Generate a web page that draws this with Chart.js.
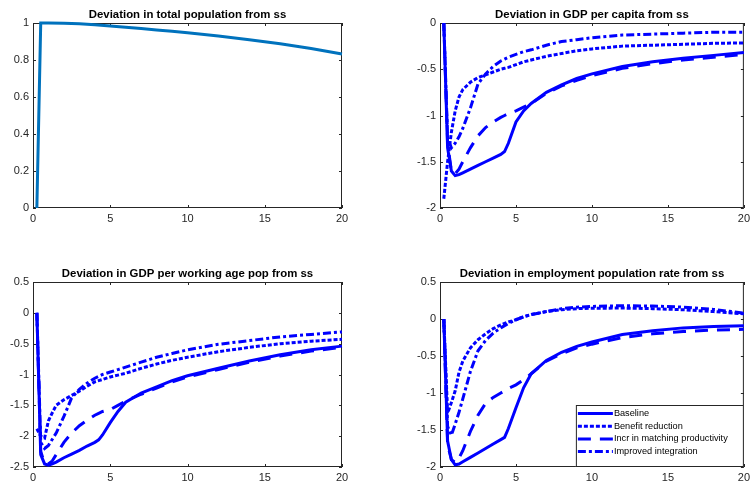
<!DOCTYPE html>
<html>
<head>
<meta charset="utf-8">
<script src="https://cdn.jsdelivr.net/npm/chart.js@4/dist/chart.umd.min.js"></script>
<style>
  body { margin: 0; background: #fff; }
  #wrap { position: relative; width: 754px; height: 489px; }
  canvas { position: absolute; }
</style>
</head>
<body>
<div id="wrap">
  <canvas id="c1" width="377" height="240" style="left:0;top:0"></canvas>
  <canvas id="c2" width="377" height="240" style="left:377px;top:0"></canvas>
  <canvas id="c3" width="377" height="244" style="left:0;top:245px"></canvas>
  <canvas id="c4" width="377" height="244" style="left:377px;top:245px"></canvas>
</div>
<script>
// x ticks shared by all panels
var xTicks = [0, 5, 10, 15, 20];

// panel 1: total population
var popT = [0.25, 0.5, 1, 2, 3, 4, 5, 6, 7, 8, 9, 10, 12, 14, 16, 18, 20];
var popDev = [0, 1, 1, 0.999, 0.996, 0.99, 0.984, 0.977, 0.97, 0.962, 0.955, 0.947, 0.93, 0.91, 0.888, 0.862, 0.832];
var popTicks = [0, 0.2, 0.4, 0.6, 0.8, 1];

// time grid for the scenario panels
var t = [0.25, 0.5, 0.75, 1, 1.25, 1.5, 2, 2.5, 3, 3.5, 4, 4.25, 4.5, 5, 5.5, 6, 7, 8, 9, 10, 12, 14, 16, 18, 20];
var seriesNames = ['Baseline', 'Benefit reduction', 'Incr in matching productivity', 'Improved integration'];

// panel 2: GDP per capita
var gdpCapBase = [0, -1.35, -1.6, -1.65, -1.64, -1.62, -1.58, -1.54, -1.5, -1.46, -1.42, -1.39, -1.3, -1.07, -0.95, -0.87, -0.75, -0.67, -0.6, -0.55, -0.47, -0.42, -0.38, -0.35, -0.32];
var gdpCapBenefit = [-1.9, -1.5, -1.18, -0.95, -0.8, -0.72, -0.64, -0.59, -0.56, -0.53, -0.5, -0.49, -0.48, -0.45, -0.42, -0.4, -0.36, -0.33, -0.3, -0.28, -0.25, -0.24, -0.23, -0.22, -0.215];
var gdpCapMatching = [0, -1.3, -1.6, -1.63, -1.58, -1.5, -1.35, -1.22, -1.13, -1.07, -1.02, -1.0, -0.98, -0.95, -0.91, -0.87, -0.76, -0.68, -0.62, -0.57, -0.49, -0.44, -0.4, -0.37, -0.34];
var gdpCapImproved = [0, -1.25, -1.35, -1.3, -1.23, -1.14, -0.92, -0.66, -0.55, -0.47, -0.41, -0.39, -0.37, -0.34, -0.31, -0.29, -0.24, -0.2, -0.18, -0.16, -0.13, -0.12, -0.11, -0.1, -0.1];
var gdpCapTicks = [-2, -1.5, -1, -0.5, 0];

// panel 3: GDP per working age pop
var gdpWapBase = [0, -2.3, -2.45, -2.47, -2.45, -2.42, -2.35, -2.29, -2.23, -2.16, -2.1, -2.06, -1.98, -1.78, -1.6, -1.45, -1.3, -1.2, -1.1, -1.02, -0.9, -0.78, -0.68, -0.6, -0.54];
var gdpWapBenefit = [-1.88, -2.0, -2.03, -1.75, -1.62, -1.5, -1.41, -1.34, -1.27, -1.19, -1.12, -1.1, -1.08, -1.04, -1.01, -0.98, -0.9, -0.83, -0.77, -0.72, -0.63, -0.56, -0.5, -0.46, -0.43];
var gdpWapMatching = [0, -2.25, -2.44, -2.45, -2.4, -2.3, -2.1, -1.95, -1.83, -1.74, -1.66, -1.63, -1.6, -1.57, -1.5, -1.43, -1.32, -1.22, -1.12, -1.04, -0.92, -0.8, -0.7, -0.62, -0.56];
var gdpWapImproved = [0, -2.1, -2.2, -2.15, -2.05, -1.95, -1.68, -1.38, -1.24, -1.14, -1.06, -1.03, -1.0, -0.96, -0.92, -0.88, -0.8, -0.72, -0.66, -0.6, -0.51, -0.45, -0.39, -0.35, -0.31];
var gdpWapTicks = [-2.5, -2, -1.5, -1, -0.5, 0, 0.5];

// panel 4: employment population rate
var empBase = [0, -1.65, -1.9, -1.97, -1.96, -1.93, -1.87, -1.81, -1.75, -1.69, -1.63, -1.6, -1.48, -1.2, -0.93, -0.74, -0.56, -0.45, -0.37, -0.31, -0.21, -0.16, -0.12, -0.1, -0.09];
var empBenefit = [0, -1.27, -1.13, -0.97, -0.72, -0.57, -0.39, -0.28, -0.2, -0.13, -0.08, -0.06, -0.04, -0.01, 0.03, 0.06, 0.1, 0.125, 0.14, 0.145, 0.148, 0.14, 0.125, 0.1, 0.07];
var empMatching = [0, -1.7, -1.9, -1.94, -1.88, -1.78, -1.52, -1.3, -1.14, -1.06, -1.0, -0.97, -0.94, -0.89, -0.82, -0.74, -0.57, -0.47, -0.39, -0.34, -0.25, -0.2, -0.17, -0.15, -0.14];
var empImproved = [0, -1.45, -1.57, -1.42, -1.26, -1.08, -0.71, -0.43, -0.29, -0.19, -0.12, -0.09, -0.06, -0.01, 0.03, 0.06, 0.1, 0.14, 0.16, 0.17, 0.18, 0.175, 0.16, 0.13, 0.08];
var empTicks = [-2, -1.5, -1, -0.5, 0, 0.5];

var FONT = "'Liberation Sans', Arial, sans-serif";
var AXIS = '#262626';
var BLUE = '#0000ff';
var dashes = [[], [4, 2], [13, 9], [8, 3, 3, 3]];

function pts(xs, ys) {
  return xs.map(function (x, i) { return { x: x, y: ys[i] }; });
}

// axes box, inner tick marks, title and optional legend (MATLAB look)
var boxPlugin = {
  id: 'box',
  beforeDatasetsDraw: function (chart) {
    var ctx = chart.ctx, a = chart.chartArea;
    var xs = chart.scales.x, ys = chart.scales.y;
    ctx.save();
    ctx.strokeStyle = AXIS;
    ctx.lineWidth = 1;
    ctx.strokeRect(a.left + 0.5, a.top + 0.5, a.right - a.left - 1, a.bottom - a.top - 1);
    ctx.beginPath();
    xs.ticks.forEach(function (tk) {
      var px = Math.round(xs.getPixelForValue(tk.value)) + 0.5;
      ctx.moveTo(px, a.bottom); ctx.lineTo(px, a.bottom - 3);
      ctx.moveTo(px, a.top); ctx.lineTo(px, a.top + 3);
    });
    ys.ticks.forEach(function (tk) {
      var py = Math.round(ys.getPixelForValue(tk.value)) + 0.5;
      ctx.moveTo(a.left, py); ctx.lineTo(a.left + 3, py);
      ctx.moveTo(a.right, py); ctx.lineTo(a.right - 3, py);
    });
    ctx.stroke();
    ctx.restore();
  },
  afterDraw: function (chart, args, opts) {
    var ctx = chart.ctx, a = chart.chartArea;
    ctx.save();
    ctx.fillStyle = '#000';
    ctx.font = 'bold 11.4px ' + FONT;
    ctx.textAlign = 'center';
    ctx.textBaseline = 'alphabetic';
    ctx.fillText(opts.title, (a.left + a.right) / 2, a.top - 5);
    if (opts.legend) {
      var w = 168, h = 62;
      var lx = a.right - w, ly = a.bottom - h;
      ctx.fillStyle = '#fff';
      ctx.fillRect(lx, ly, w, h);
      ctx.strokeStyle = AXIS;
      ctx.lineWidth = 1;
      ctx.strokeRect(lx + 0.5, ly + 0.5, w - 1, h - 1);
      ctx.font = '9.2px ' + FONT;
      ctx.textAlign = 'left';
      ctx.textBaseline = 'middle';
      chart.data.datasets.forEach(function (ds, i) {
        var yy = ly + 8.5 + i * 12.7;
        ctx.strokeStyle = ds.borderColor;
        ctx.lineWidth = ds.borderWidth;
        ctx.setLineDash(ds.borderDash);
        ctx.beginPath();
        ctx.moveTo(lx + 2, yy); ctx.lineTo(lx + 37, yy);
        ctx.stroke();
        ctx.setLineDash([]);
        ctx.fillStyle = '#000';
        ctx.fillText(ds.label, lx + 38, yy);
      });
    }
    ctx.restore();
  }
};

function makePanel(id, title, datasets, yTicks, pad, legend) {
  return new Chart(document.getElementById(id), {
    type: 'line',
    data: { datasets: datasets },
    plugins: [boxPlugin],
    options: {
      responsive: false,
      animation: false,
      layout: { padding: pad },
      plugins: {
        legend: { display: false },
        tooltip: { enabled: false },
        box: { title: title, legend: legend }
      },
      elements: { point: { radius: 0 }, line: { tension: 0 } },
      scales: {
        x: {
          type: 'linear', min: 0, max: 20,
          afterBuildTicks: function (s) { s.ticks = xTicks.map(function (v) { return { value: v }; }); },
          afterFit: function (s) { s.height = 22; },
          grid: { display: false, drawTicks: false },
          border: { display: false },
          ticks: { color: AXIS, font: { family: FONT, size: 11 }, padding: 4, maxRotation: 0,
                   callback: function (v) { return String(v); } }
        },
        y: {
          type: 'linear', min: yTicks[0], max: yTicks[yTicks.length - 1],
          afterBuildTicks: function (s) { s.ticks = yTicks.map(function (v) { return { value: v }; }); },
          afterFit: function (s) { s.width = 33; },
          grid: { display: false, drawTicks: false },
          border: { display: false },
          ticks: { color: AXIS, font: { family: FONT, size: 11 }, padding: 4,
                   callback: function (v) { return String(v); } }
        }
      }
    }
  });
}

function scenarioSets(ys) {
  return ys.map(function (arr, i) {
    return {
      label: seriesNames[i],
      data: pts(t, arr),
      borderColor: BLUE,
      borderWidth: 3,
      borderDash: dashes[i],
      clip: false,
      fill: false
    };
  });
}

var padTop = function (left, right) { return { left: left, right: right, top: 23, bottom: 10 }; };
var padBot = function (left, right) { return { left: left, right: right, top: 37, bottom: 0 }; };

makePanel('c1', 'Deviation in total population from ss', [{
  label: 'Population', data: pts(popT, popDev), borderColor: '#0072bd', borderWidth: 3, clip: false, fill: false
}], popTicks, padTop(0, 35), false);

makePanel('c2', 'Deviation in GDP per capita from ss',
  scenarioSets([gdpCapBase, gdpCapBenefit, gdpCapMatching, gdpCapImproved]), gdpCapTicks, padTop(30, 5), false);

makePanel('c3', 'Deviation in GDP per working age pop from ss',
  scenarioSets([gdpWapBase, gdpWapBenefit, gdpWapMatching, gdpWapImproved]), gdpWapTicks, padBot(0, 35), false);

makePanel('c4', 'Deviation in employment population rate from ss',
  scenarioSets([empBase, empBenefit, empMatching, empImproved]), empTicks, padBot(30, 5), true);
</script>
</body>
</html>
